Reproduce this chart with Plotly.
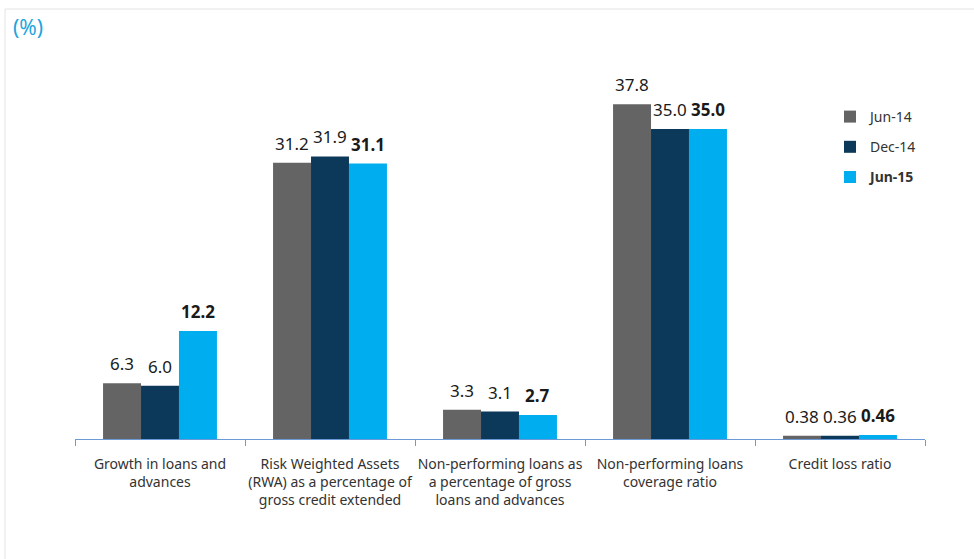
import plotly.graph_objects as go

categories = [
    "Growth in loans and<br>advances",
    "Risk Weighted Assets<br>(RWA) as a percentage of<br>gross credit extended",
    "Non-performing loans as<br>a percentage of gross<br>loans and advances",
    "Non-performing loans<br>coverage ratio",
    "Credit loss ratio",
]
jun14 = [6.3, 31.2, 3.3, 37.8, 0.38]
dec14 = [6.0, 31.9, 3.1, 35.0, 0.36]
jun15 = [12.2, 31.1, 2.7, 35.0, 0.46]
decimals = [1, 1, 1, 1, 2]

series = [
    ("Jun-14", jun14, "#646464", False),
    ("Dec-14", dec14, "#0c3859", False),
    ("Jun-15", jun15, "#00adee", True),
]

FONT = "Noto Sans"
W, H = 974, 559
ML, MR, MT, MB = 75, 49, 67, 120
YMAX = 42.0
plot_w = W - ML - MR
plot_h = H - MT - MB

fig = go.Figure()
for i, (name, vals, color, bold) in enumerate(series):
    fig.add_trace(go.Bar(
        x=categories, y=vals, name=f"<b>{name}</b>" if bold else name,
        marker=dict(color=color, line=dict(width=0)),
        legendgroup=name,
    ))

# value labels above each bar
bar_px = plot_w / len(categories) * (1 - 0.33) / 3
annotations = []
for i, (name, vals, color, bold) in enumerate(series):
    for cat, v, d in zip(categories, vals, decimals):
        txt = f"{v:.{d}f}"
        annotations.append(dict(
            x=cat, y=v, xref="x", yref="y",
            text=f"<b>{txt}</b>" if bold else txt,
            showarrow=False, yanchor="bottom", yshift=6,
            xshift=(i - 1) * bar_px,
            font=dict(family=FONT, size=17, color="#1a1a1a"),
        ))

annotations.append(dict(
    x=(11 - ML) / plot_w, y=(H - MB - 27) / plot_h, xref="paper", yref="paper",
    text="(%)", showarrow=False, xanchor="left", yanchor="middle",
    font=dict(family=FONT, size=21, color="#21a4de"),
))

fig.update_layout(
    width=W, height=H,
    margin=dict(l=ML, r=MR, t=MT, b=MB),
    paper_bgcolor="white", plot_bgcolor="white",
    barmode="group", bargap=0.33, bargroupgap=0,
    font=dict(family=FONT, size=14, color="#333333"),
    xaxis=dict(
        showline=True, linecolor="#6b9ad6", linewidth=1,
        ticks="outside", tickson="boundaries", ticklen=6, tickcolor="#6b9ad6",
        tickfont=dict(family=FONT, size=14, color="#333333"),
        tickangle=0, automargin=False, ticklabelstandoff=12,
        showgrid=False,
    ),
    yaxis=dict(range=[0, YMAX], visible=False, showgrid=False, zeroline=False),
    legend=dict(
        x=(830 - ML) / plot_w, y=(H - MB - 101) / plot_h,
        xanchor="left", yanchor="top",
        font=dict(family=FONT, size=14, color="#333333"),
        tracegroupgap=9, traceorder="grouped",
        bgcolor="rgba(0,0,0,0)",
    ),
    annotations=annotations,
    shapes=[dict(
        type="rect", xref="paper", yref="paper",
        x0=(5 - ML) / plot_w, x1=(990 - ML) / plot_w,
        y0=(H - MB - 580) / plot_h, y1=(H - MB - 9) / plot_h,
        line=dict(color="#e4e4e4", width=1), fillcolor="rgba(0,0,0,0)",
        layer="below",
    )],
)

fig.write_html("out.html")
